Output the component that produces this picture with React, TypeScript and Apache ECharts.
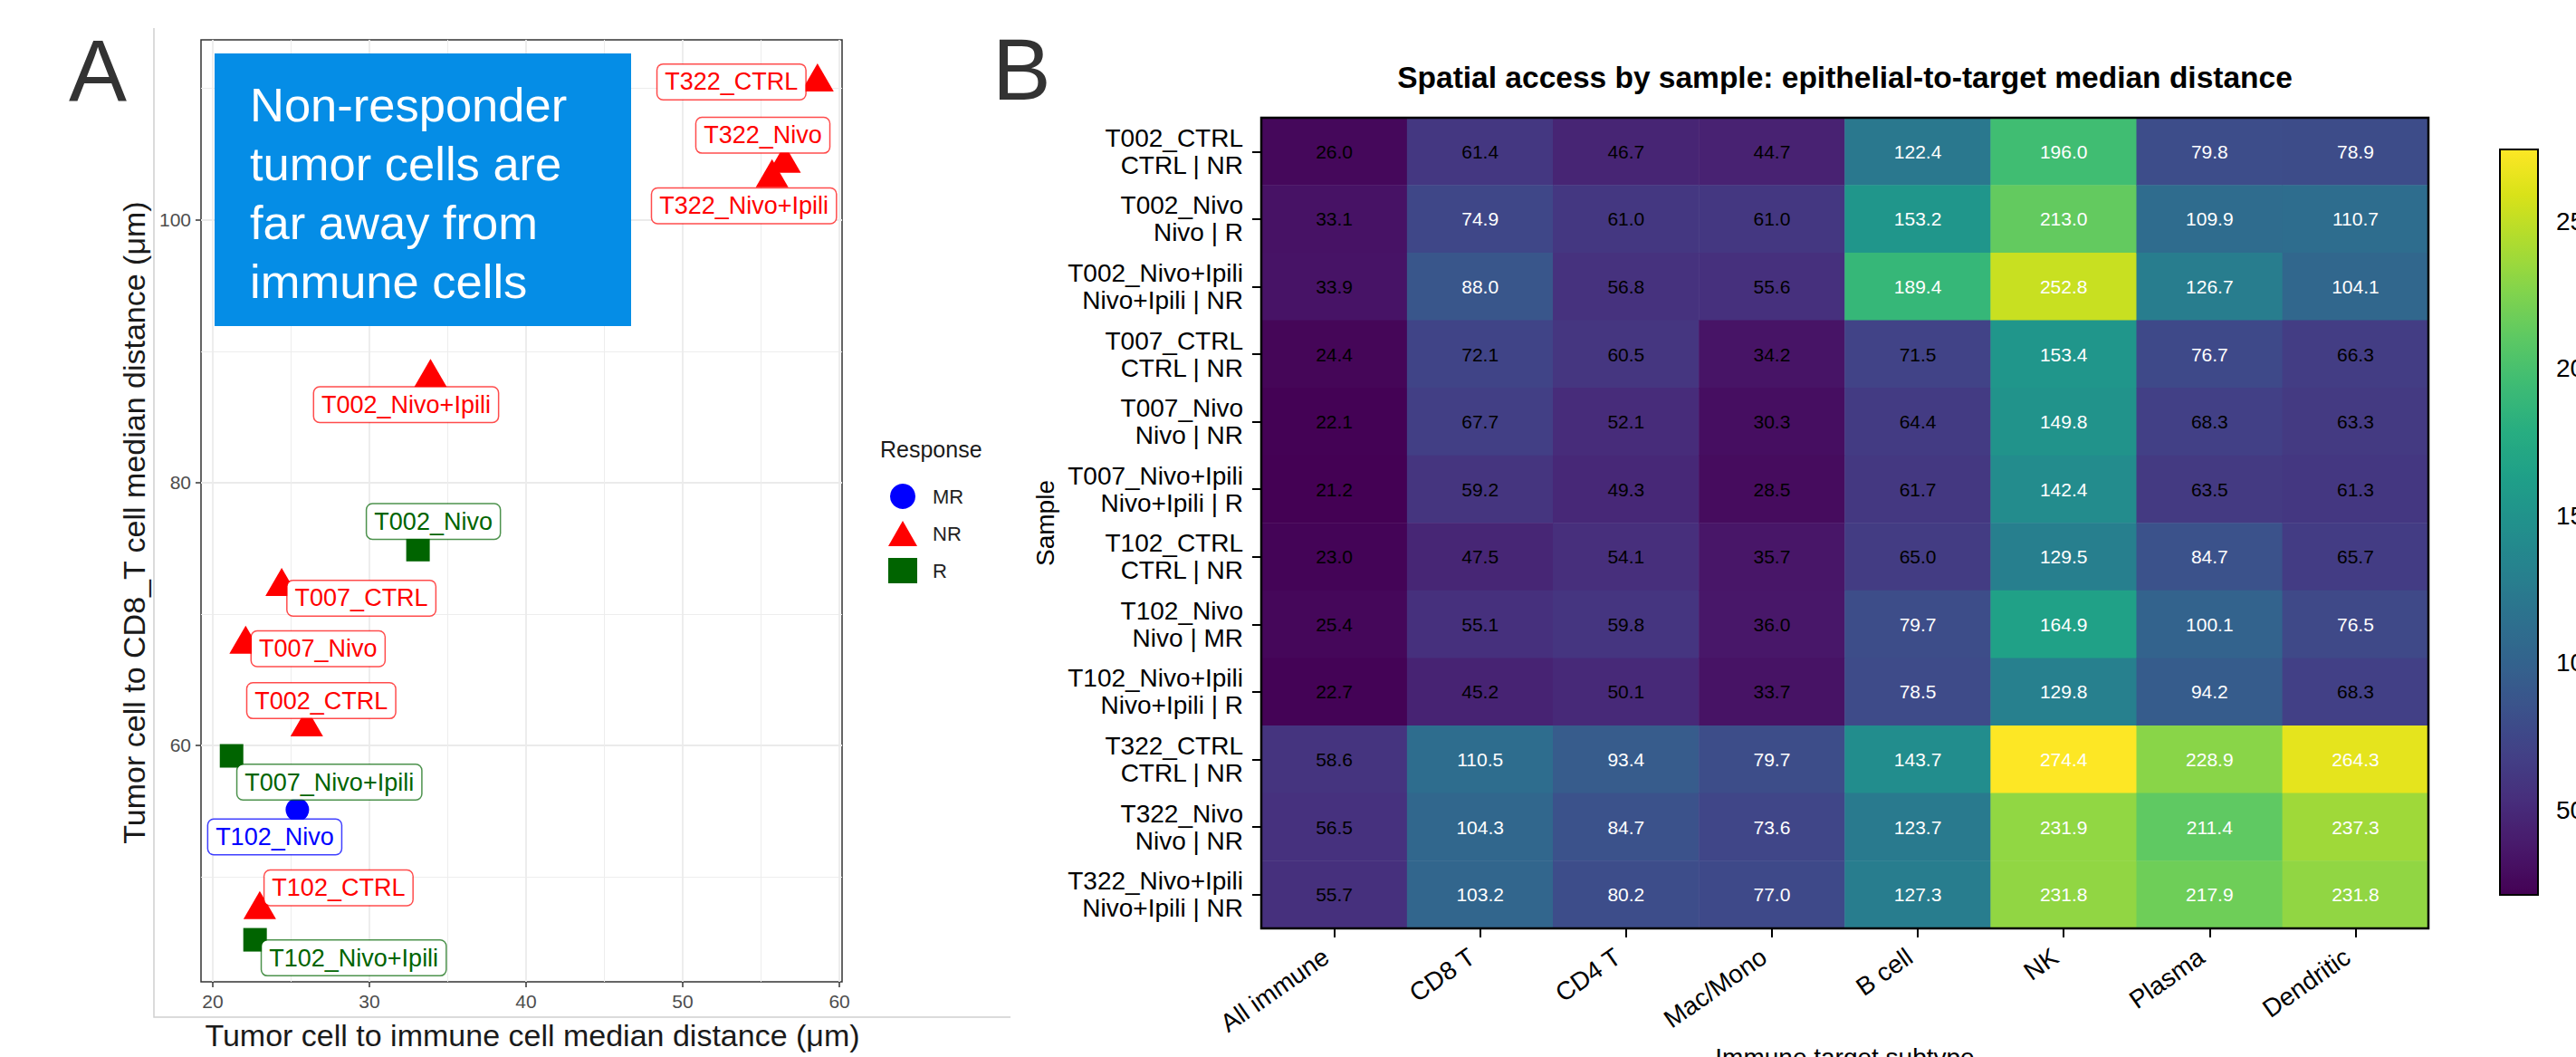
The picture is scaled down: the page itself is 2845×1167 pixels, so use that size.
import React, { useEffect, useRef } from 'react';
import * as echarts from 'echarts';

// ---------------- data ----------------
const SAMPLES = ['T002_CTRL', 'T002_Nivo', 'T002_Nivo+Ipili', 'T007_CTRL', 'T007_Nivo', 'T007_Nivo+Ipili', 'T102_CTRL', 'T102_Nivo', 'T102_Nivo+Ipili', 'T322_CTRL', 'T322_Nivo', 'T322_Nivo+Ipili'];
const RESPONSES = ['NR', 'R', 'NR', 'NR', 'NR', 'R', 'NR', 'MR', 'R', 'NR', 'NR', 'NR'];
const SUBTYPES = ['All immune', 'CD8 T', 'CD4 T', 'Mac/Mono', 'B cell', 'NK', 'Plasma', 'Dendritic'];

const ALL_IMMUNE = [26.0, 33.1, 33.9, 24.4, 22.1, 21.2, 23.0, 25.4, 22.7, 58.6, 56.5, 55.7];
const CD8_T = [61.4, 74.9, 88.0, 72.1, 67.7, 59.2, 47.5, 55.1, 45.2, 110.5, 104.3, 103.2];
const CD4_T = [46.7, 61.0, 56.8, 60.5, 52.1, 49.3, 54.1, 59.8, 50.1, 93.4, 84.7, 80.2];
const MAC_MONO = [44.7, 61.0, 55.6, 34.2, 30.3, 28.5, 35.7, 36.0, 33.7, 79.7, 73.6, 77.0];
const B_CELL = [122.4, 153.2, 189.4, 71.5, 64.4, 61.7, 65.0, 79.7, 78.5, 143.7, 123.7, 127.3];
const NK = [196.0, 213.0, 252.8, 153.4, 149.8, 142.4, 129.5, 164.9, 129.8, 274.4, 231.9, 231.8];
const PLASMA = [79.8, 109.9, 126.7, 76.7, 68.3, 63.5, 84.7, 100.1, 94.2, 228.9, 211.4, 217.9];
const DENDRITIC = [78.9, 110.7, 104.1, 66.3, 63.3, 61.3, 65.7, 76.5, 68.3, 264.3, 237.3, 231.8];
const COLUMNS = [ALL_IMMUNE, CD8_T, CD4_T, MAC_MONO, B_CELL, NK, PLASMA, DENDRITIC];

const RESPONSE_LEVELS = ['MR', 'NR', 'R'];
const X_TICKS = [20, 30, 40, 50, 60];
const X_MINOR = [25, 35, 45, 55];
const Y_TICKS = [60, 80, 100];
const Y_MINOR = [50, 70, 90, 110];
const X_RANGE = [19.25, 60.17];
const Y_RANGE = [42.0, 113.7];
const CBAR_TICKS = [50, 100, 150, 200, 250];
const CBAR_RANGE = [21.2, 274.4];

// ---------------- layout / style ----------------
// repel-style label offsets (px) relative to each point, same order as SAMPLES
const LABEL_OFFSETS = [
  [16, -29], [17, -31], [-27, 30], [88, 13], [80, 5], [108, 29],
  [87, -24], [-25, 30], [109, 20], [-95, 0], [-24, -31], [-31, 31],
];
const RESP_STYLE: Record<string, any> = {
  MR: { color: '#0000FF', border: 'rgba(0,0,255,0.75)', symbol: 'circle', size: 26, shift: 0 },
  NR: { color: '#FF0000', border: 'rgba(255,0,0,0.7)', symbol: 'triangle', size: [36, 31], shift: -5 },
  R: { color: '#006400', border: 'rgba(0,100,0,0.7)', symbol: 'rect', size: 26, shift: 0 },
};
const VIRIDIS = ['#440154', '#48186a', '#472d7b', '#424086', '#3b528b', '#33638d', '#2c728e', '#26828e', '#21918c', '#1fa088', '#28ae80', '#3fbc73', '#5ec962', '#84d44b', '#addc30', '#d8e219', '#fde725'];
const TEXT_SWITCH = 73;
const FONT = 'Liberation Sans, Arial, sans-serif';

const SC = { left: 222, top: 44, width: 708, height: 1040 };
const HM = { left: 1393, top: 130, width: 1289, height: 895 };
const CB = { left: 2761, top: 165, width: 42, height: 823 };

function buildOption() {
  const scatterSeries = RESPONSE_LEVELS.map((resp) => {
    const st = RESP_STYLE[resp];
    const data = SAMPLES.map((s, i) => ({ s, i }))
      .filter((d) => RESPONSES[d.i] === resp)
      .map(({ s, i }) => ({
        name: s,
        value: [ALL_IMMUNE[i], CD8_T[i]],
        label: { offset: [LABEL_OFFSETS[i][0], LABEL_OFFSETS[i][1] - st.shift] },
      }));
    return {
      type: 'scatter',
      name: resp,
      xAxisIndex: 0,
      yAxisIndex: 0,
      symbol: st.symbol,
      symbolSize: st.size,
      symbolOffset: [0, st.shift],
      itemStyle: { color: st.color, opacity: 1 },
      emphasis: { disabled: true },
      label: {
        show: true,
        position: 'inside',
        formatter: '{b}',
        color: st.color,
        fontFamily: FONT,
        fontSize: 27,
        lineHeight: 28,
        backgroundColor: '#ffffff',
        borderColor: st.border,
        borderWidth: 1.5,
        borderRadius: 6,
        padding: [5, 8, 5, 8],
      },
      data,
      z: 3,
    };
  });

  const heatData: any[] = [];
  COLUMNS.forEach((col, j) => {
    col.forEach((v, i) => {
      heatData.push({ value: [j, i, v], label: { color: v > TEXT_SWITCH ? '#ffffff' : '#000000' } });
    });
  });

  const axisText = { fontFamily: FONT };
  const gridCommon = { containLabel: false, outerBoundsMode: 'none' };

  return {
    animation: false,
    backgroundColor: '#ffffff',
    textStyle: { fontFamily: FONT },
    grid: [
      { ...SC, ...gridCommon, show: true, borderColor: '#333333', borderWidth: 1.5, backgroundColor: '#ffffff' },
      { ...HM, ...gridCommon, show: false },
      { ...CB, ...gridCommon, show: false },
    ],
    xAxis: [
      {
        gridIndex: 0, type: 'value', min: X_RANGE[0], max: X_RANGE[1], position: 'bottom',
        axisLine: { show: false },
        axisTick: { show: true, customValues: X_TICKS, length: 6, lineStyle: { color: '#333333', width: 1.5 } },
        axisLabel: { customValues: X_TICKS, color: '#4d4d4d', fontSize: 21, margin: 11, ...axisText },
        splitLine: { show: true, lineStyle: { color: '#ebebeb', width: 1.8 } },
      },
      {
        gridIndex: 0, type: 'value', min: X_RANGE[0], max: X_RANGE[1], position: 'bottom',
        axisLine: { show: false }, axisLabel: { show: false },
        axisTick: { show: false, customValues: X_MINOR },
        splitLine: { show: true, lineStyle: { color: '#ededed', width: 1 } },
      },
      {
        gridIndex: 1, type: 'category', data: SUBTYPES, position: 'bottom',
        axisLine: { show: false },
        axisTick: { show: true, alignWithLabel: true, length: 10, lineStyle: { color: '#000', width: 2 } },
        axisLabel: { rotate: 35, fontSize: 28, color: '#000', margin: 22, padding: [0, 11, 0, 0], interval: 0, ...axisText },
        splitLine: { show: false },
      },
      { gridIndex: 2, type: 'value', show: false, min: 0, max: 1 },
    ],
    yAxis: [
      {
        gridIndex: 0, type: 'value', min: Y_RANGE[0], max: Y_RANGE[1],
        axisLine: { show: false },
        axisTick: { show: true, customValues: Y_TICKS, length: 6, lineStyle: { color: '#333333', width: 1.5 } },
        axisLabel: { customValues: Y_TICKS, color: '#4d4d4d', fontSize: 21, margin: 11, ...axisText },
        splitLine: { show: true, lineStyle: { color: '#ebebeb', width: 1.8 } },
      },
      {
        gridIndex: 0, type: 'value', min: Y_RANGE[0], max: Y_RANGE[1],
        axisLine: { show: false }, axisLabel: { show: false },
        axisTick: { show: false, customValues: Y_MINOR },
        splitLine: { show: true, lineStyle: { color: '#ededed', width: 1 } },
      },
      {
        gridIndex: 1, type: 'category', data: SAMPLES, inverse: true,
        axisLine: { show: false },
        axisTick: { show: true, alignWithLabel: true, length: 10, lineStyle: { color: '#000', width: 2 } },
        axisLabel: {
          fontSize: 28, color: '#000', margin: 20, lineHeight: 30, align: 'right', padding: [7, 0, 0, 0], interval: 0, ...axisText,
          formatter: (v: string, idx: number) => `${v}\n${v.split('_').slice(1).join('_')} | ${RESPONSES[idx]}`,
        },
        splitLine: { show: false },
      },
      {
        gridIndex: 2, type: 'value', min: CBAR_RANGE[0], max: CBAR_RANGE[1], position: 'right',
        axisLine: { show: false },
        axisTick: { show: true, customValues: CBAR_TICKS, length: 10, lineStyle: { color: '#000', width: 2 } },
        axisLabel: { customValues: CBAR_TICKS, fontSize: 28, color: '#000', margin: 20, ...axisText },
        splitLine: { show: false },
      },
    ],
    visualMap: [
      {
        type: 'continuous', min: CBAR_RANGE[0], max: CBAR_RANGE[1], seriesIndex: 3,
        inRange: { color: VIRIDIS }, orient: 'vertical', left: CB.left, top: CB.top,
        itemWidth: CB.width, itemHeight: CB.height, calculable: false, padding: 0,
        text: null, hoverLink: false,
      },
    ],
    legend: {
      data: RESPONSE_LEVELS, orient: 'vertical', left: 976, top: 529,
      itemWidth: 32, itemHeight: 28, itemGap: 13, selectedMode: false,
      textStyle: { fontSize: 22, color: '#222', padding: [0, 0, 0, 12], fontFamily: FONT },
    },
    series: [
      ...scatterSeries,
      {
        type: 'heatmap', xAxisIndex: 2, yAxisIndex: 2, data: heatData,
        label: { show: true, fontSize: 21, fontFamily: FONT, formatter: (p: any) => p.value[2].toFixed(1) },
        emphasis: { disabled: true },
        itemStyle: { borderWidth: 0 },
      },
    ],
    graphic: [
      { type: 'text', x: 76, y: 77, style: { text: 'A', fontSize: 96, fontFamily: FONT, fill: '#333333', align: 'left', verticalAlign: 'middle' } },
      { type: 'text', x: 1096, y: 76, style: { text: 'B', fontSize: 97, fontFamily: FONT, fill: '#333333', align: 'left', verticalAlign: 'middle' } },
      { type: 'polyline', shape: { points: [[1116, 1123], [170, 1123], [170, 31]] }, style: { stroke: '#d0d0d0', lineWidth: 1.5, fill: null }, z: 1 },
      { type: 'rect', shape: { x: 237, y: 59, width: 460, height: 301 }, style: { fill: '#058DE6' }, z: 10 },
      { type: 'text', x: 276, y: 83, z: 11, style: { text: 'Non-responder\ntumor cells are\nfar away from\nimmune cells', fontSize: 52.5, lineHeight: 65, fontFamily: FONT, fill: '#ffffff', align: 'left', verticalAlign: 'top' } },
      { type: 'text', x: 588, y: 1143, style: { text: 'Tumor cell to immune cell median distance (μm)', fontSize: 34, fontFamily: FONT, fill: '#1a1a1a', align: 'center', verticalAlign: 'middle' } },
      { type: 'text', x: 148, y: 577, rotation: Math.PI / 2, style: { text: 'Tumor cell to CD8_T cell median distance (μm)', fontSize: 34, fontFamily: FONT, fill: '#1a1a1a', align: 'center', verticalAlign: 'middle' } },
      { type: 'text', x: 972, y: 496, style: { text: 'Response', fontSize: 25, fontFamily: FONT, fill: '#1a1a1a', align: 'left', verticalAlign: 'middle' } },
      { type: 'text', x: HM.left + HM.width / 2, y: 85, style: { text: 'Spatial access by sample: epithelial-to-target median distance', fontSize: 33.5, fontWeight: 'bold', fontFamily: FONT, fill: '#000', align: 'center', verticalAlign: 'middle' } },
      { type: 'text', x: 1154, y: HM.top + HM.height / 2, rotation: Math.PI / 2, style: { text: 'Sample', fontSize: 28, fontFamily: FONT, fill: '#000', align: 'center', verticalAlign: 'middle' } },
      { type: 'text', x: HM.left + HM.width / 2, y: 1153, style: { text: 'Immune target subtype', fontSize: 28, fontFamily: FONT, fill: '#000', align: 'center', verticalAlign: 'top' } },
      { type: 'rect', shape: { x: HM.left, y: HM.top, width: HM.width, height: HM.height }, style: { fill: null, stroke: '#000', lineWidth: 2.5 }, z: 50 },
      { type: 'rect', shape: { x: CB.left, y: CB.top, width: CB.width, height: CB.height }, style: { fill: null, stroke: '#000', lineWidth: 2 }, z: 50 },
    ],
  };
}

export default function App() {
  const ref = useRef<HTMLDivElement>(null);
  useEffect(() => {
    if (!ref.current) return;
    const chart = echarts.init(ref.current, null, { renderer: 'svg' });
    chart.setOption(buildOption() as any);
    return () => chart.dispose();
  }, []);
  return (
    <div
      ref={ref}
      style={{ position: 'fixed', left: 0, top: 0, width: 2845, height: 1167, background: '#ffffff' }}
    />
  );
}
